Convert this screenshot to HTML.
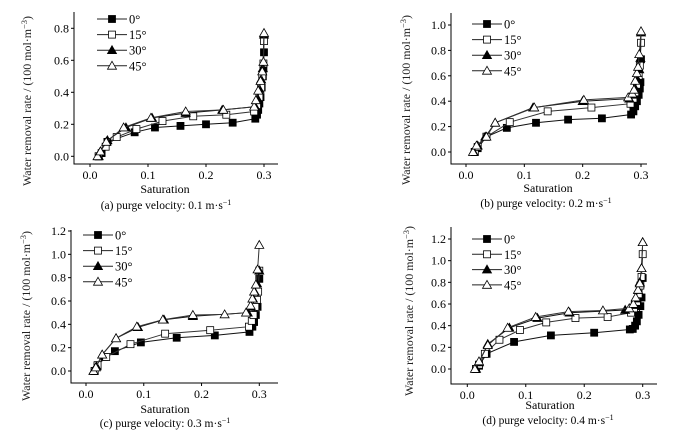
<!DOCTYPE html>
<html><head><meta charset="utf-8"><style>
html,body{margin:0;padding:0;background:#fff;}
svg{display:block;font-family:"Liberation Serif",serif;}
</style></head><body>
<svg id="fig" width="697" height="438" viewBox="0 0 697 438"></svg>
<script>
// ---- data ----
const seriesNames = ["0°","15°","30°","45°"];
const panelCaptions = ["(a) purge velocity: 0.1 m·s","(b) purge velocity: 0.2 m·s","(c) purge velocity: 0.3 m·s","(d) purge velocity: 0.4 m·s"];
const xTicks = [0.0,0.1,0.2,0.3];
const yTicksA = [0.0,0.2,0.4,0.6,0.8];
const yTicksB = [0.0,0.2,0.4,0.6,0.8,1.0];
const yTicksC = [0.0,0.2,0.4,0.6,0.8,1.0,1.2];
const yTicksD = [0.0,0.2,0.4,0.6,0.8,1.0,1.2];

const a0x=[0.015,0.02,0.03,0.077,0.112,0.156,0.2,0.246,0.285,0.288,0.29,0.292,0.294,0.296,0.298,0.299,0.3];
const a0y=[0,0.02,0.09,0.15,0.18,0.19,0.2,0.21,0.235,0.26,0.29,0.33,0.37,0.43,0.5,0.55,0.65];
const a1x=[0.015,0.027,0.046,0.08,0.125,0.178,0.235,0.283,0.288,0.292,0.295,0.297,0.299,0.3];
const a1y=[0,0.06,0.12,0.17,0.22,0.25,0.26,0.28,0.32,0.37,0.43,0.5,0.58,0.72];
const a2x=[0.015,0.018,0.03,0.062,0.107,0.165,0.228,0.285,0.289,0.292,0.295,0.298,0.3];
const a2y=[0,0.03,0.1,0.18,0.24,0.27,0.29,0.31,0.36,0.42,0.48,0.55,0.76];
const a3x=[0.013,0.018,0.028,0.058,0.105,0.165,0.23,0.283,0.286,0.29,0.294,0.297,0.299,0.3];
const a3y=[0,0.03,0.09,0.18,0.24,0.28,0.29,0.31,0.35,0.41,0.47,0.53,0.59,0.77];

const b0x=[0.015,0.02,0.035,0.07,0.12,0.175,0.233,0.283,0.287,0.29,0.293,0.296,0.298,0.299,0.3];
const b0y=[0,0.03,0.12,0.19,0.23,0.255,0.265,0.295,0.32,0.36,0.4,0.45,0.5,0.55,0.73];
const b1x=[0.015,0.02,0.035,0.075,0.14,0.215,0.282,0.287,0.29,0.293,0.296,0.298,0.3];
const b1y=[0,0.04,0.12,0.235,0.32,0.35,0.38,0.42,0.47,0.53,0.6,0.68,0.86];
const b2x=[0.013,0.02,0.033,0.05,0.115,0.2,0.28,0.285,0.29,0.294,0.297,0.299,0.3];
const b2y=[0,0.05,0.12,0.23,0.35,0.4,0.42,0.45,0.5,0.57,0.65,0.74,0.94];
const b3x=[0.012,0.018,0.035,0.05,0.117,0.202,0.278,0.285,0.288,0.29,0.293,0.295,0.297,0.3];
const b3y=[0,0.05,0.12,0.23,0.35,0.41,0.43,0.46,0.49,0.56,0.62,0.67,0.77,0.95];

const c0x=[0.015,0.02,0.032,0.05,0.095,0.157,0.223,0.283,0.288,0.291,0.294,0.297,0.3];
const c0y=[0,0.04,0.12,0.17,0.245,0.285,0.305,0.335,0.38,0.42,0.48,0.55,0.79];
const c1x=[0.015,0.02,0.035,0.077,0.137,0.215,0.282,0.287,0.29,0.293,0.296,0.298,0.3];
const c1y=[0,0.05,0.12,0.23,0.32,0.35,0.38,0.43,0.48,0.55,0.61,0.68,0.86];
const c2x=[0.013,0.018,0.028,0.052,0.09,0.135,0.185,0.28,0.285,0.289,0.292,0.296,0.3];
const c2y=[0,0.04,0.14,0.28,0.375,0.44,0.47,0.5,0.55,0.62,0.68,0.75,0.86];
const c3x=[0.013,0.017,0.028,0.052,0.088,0.133,0.185,0.24,0.277,0.285,0.288,0.291,0.294,0.297,0.3];
const c3y=[0,0.03,0.14,0.28,0.38,0.44,0.48,0.485,0.5,0.56,0.62,0.68,0.74,0.87,1.08];

const d0x=[0.015,0.02,0.033,0.08,0.143,0.217,0.278,0.283,0.287,0.29,0.293,0.296,0.298,0.3];
const d0y=[0,0.03,0.14,0.25,0.31,0.335,0.365,0.37,0.4,0.44,0.5,0.58,0.66,0.84];
const d1x=[0.015,0.02,0.03,0.055,0.09,0.135,0.185,0.24,0.28,0.285,0.29,0.293,0.296,0.298,0.3];
const d1y=[0,0.04,0.14,0.27,0.36,0.43,0.47,0.48,0.52,0.56,0.62,0.69,0.77,0.85,1.06];
const d2x=[0.015,0.02,0.035,0.072,0.12,0.175,0.27,0.283,0.288,0.292,0.295,0.298,0.3];
const d2y=[0,0.06,0.23,0.38,0.47,0.52,0.545,0.59,0.65,0.73,0.8,0.93,1.17];
const d3x=[0.013,0.02,0.035,0.069,0.117,0.173,0.232,0.277,0.284,0.288,0.292,0.295,0.298,0.3];
const d3y=[0,0.07,0.22,0.38,0.48,0.53,0.54,0.56,0.6,0.66,0.73,0.79,0.93,1.17];

// ---- layout ----
const NS="http://www.w3.org/2000/svg";
const svg=document.getElementById('fig');
function mk(tag,attrs,parent){const e=document.createElementNS(NS,tag);for(const k in attrs)e.setAttribute(k,attrs[k]);(parent||svg).appendChild(e);return e;}

const panels=[
 {key:'a',box:[74,12,278,164],x0:90,x3:264,y0:156.3,yv:0.8,yp:28.3,yt:yTicksA,xs:[a0x,a1x,a2x,a3x],ys:[a0y,a1y,a2y,a3y],lg:[112,19,15.6],ylx:31,ylc:101,satx:165,saty:193,capx:166,capy:209},
 {key:'b',box:[451,13,647,164],x0:466,x3:641,y0:152,yv:1.0,yp:25,yt:yTicksB,xs:[b0x,b1x,b2x,b3x],ys:[b0y,b1y,b2y,b3y],lg:[487,24,15.6],ylx:410,ylc:100,satx:548,saty:192,capx:546,capy:207},
 {key:'c',box:[71,230,278,383],x0:86,x3:259.3,y0:371,yv:1.2,yp:231,yt:yTicksC,xs:[c0x,c1x,c2x,c3x],ys:[c0y,c1y,c2y,c3y],lg:[98,235,15.6],ylx:30,ylc:316,satx:165,saty:413,capx:165,capy:427},
 {key:'d',box:[451,227,657,384],x0:467.3,x3:642.7,y0:369,yv:1.2,yp:239,yt:yTicksD,xs:[d0x,d1x,d2x,d3x],ys:[d0y,d1y,d2y,d3y],lg:[487,239,15.3],ylx:413,ylc:311,satx:550,saty:409,capx:548,capy:424}
];

function marker(g,k,cx,cy){
 const s=3.5;
 if(k===0) return mk('rect',{x:cx-s,y:cy-s,width:2*s,height:2*s,fill:'#000',stroke:'#000','stroke-width':0.8},g);
 if(k===1) return mk('rect',{x:cx-s,y:cy-s,width:2*s,height:2*s,fill:'#fff',stroke:'#000','stroke-width':0.8},g);
 const pts=`${cx},${cy-4.5} ${cx-4.5},${cy+3.4} ${cx+4.5},${cy+3.4}`;
 return mk('polygon',{points:pts,fill:k===2?'#000':'#fff',stroke:'#000','stroke-width':0.8},g);
}

panels.forEach((p,pi)=>{
 const g=mk('g',{});
 
 
 const X=v=>p.x0+(p.x3-p.x0)*v/0.3;
 const Y=v=>p.y0-(p.y0-p.yp)*v/p.yv;
 const [l,t,r,b]=p.box;
 const frame=mk('path',{d:`M${l},${t}V${b}H${r}`,fill:'none',stroke:'#000','stroke-width':1},g);
 
 
 xTicks.forEach(v=>{
  mk('line',{x1:X(v),x2:X(v),y1:b,y2:b+3,stroke:'#000','stroke-width':1},g);
  const tx=mk('text',{x:X(v),y:b+15,'font-size':12,'text-anchor':'middle',fill:'#000'},g);
  tx.textContent=v.toFixed(1);
  
  
 });
 p.yt.forEach(v=>{
  mk('line',{x1:l-3,x2:l,y1:Y(v),y2:Y(v),stroke:'#000','stroke-width':1},g);
  const ty=mk('text',{x:l-5,y:Y(v)+4,'font-size':12,'text-anchor':'end',fill:'#000'},g);
  ty.textContent=v.toFixed(1);
  
  
 });
 const yc=p.ylc;
 const yl=mk('text',{x:p.ylx,y:yc,'font-size':12,'text-anchor':'middle',fill:'#222',textLength:170,lengthAdjust:'spacingAndGlyphs',transform:`rotate(-90 ${p.ylx} ${yc})`},g);
 yl.innerHTML='Water removal rate / (100 mol·m<tspan dy="-4" font-size="8.5">−3</tspan><tspan dy="4">)</tspan>';
 
 
 const xl=mk('text',{x:p.satx,y:p.saty,'font-size':12,'text-anchor':'middle',fill:'#000'},g);
 xl.textContent='Saturation';
 
 
 const cp=mk('text',{x:p.capx,y:p.capy,'font-size':11.5,'text-anchor':'middle',fill:'#000'},g);
 cp.innerHTML=panelCaptions[pi]+'<tspan dy="-4" font-size="8">−1</tspan>';
 
 
 for(let k=0;k<4;k++){
  const sg=mk('g',{},g);
  
  
  const xs=p.xs[k],ys=p.ys[k];
  const d=xs.map((v,i)=>(i?'L':'M')+X(v).toFixed(1)+','+Y(ys[i]).toFixed(1)).join('');
  mk('path',{d:d,fill:'none',stroke:k%2?'#333':'#111','stroke-width':1},sg);
  xs.forEach((v,i)=>{
   const m=marker(sg,k,X(v),Y(ys[i]));
   
   
  });
 }
 const lgG=mk('g',{},g);
 
 
 for(let k=0;k<4;k++){
  const cy=p.lg[1]+k*p.lg[2], cx=p.lg[0];
  const e=mk('g',{},lgG);
  
  
  mk('line',{x1:cx-15,x2:cx+15,y1:cy,y2:cy,stroke:'#222','stroke-width':1},e);
  marker(e,k,cx,cy);
  const lt=mk('text',{x:cx+17,y:cy+4.5,'font-size':12.5,fill:'#000'},e);
  lt.textContent=seriesNames[k];
 }
});
</script>
</body></html>
